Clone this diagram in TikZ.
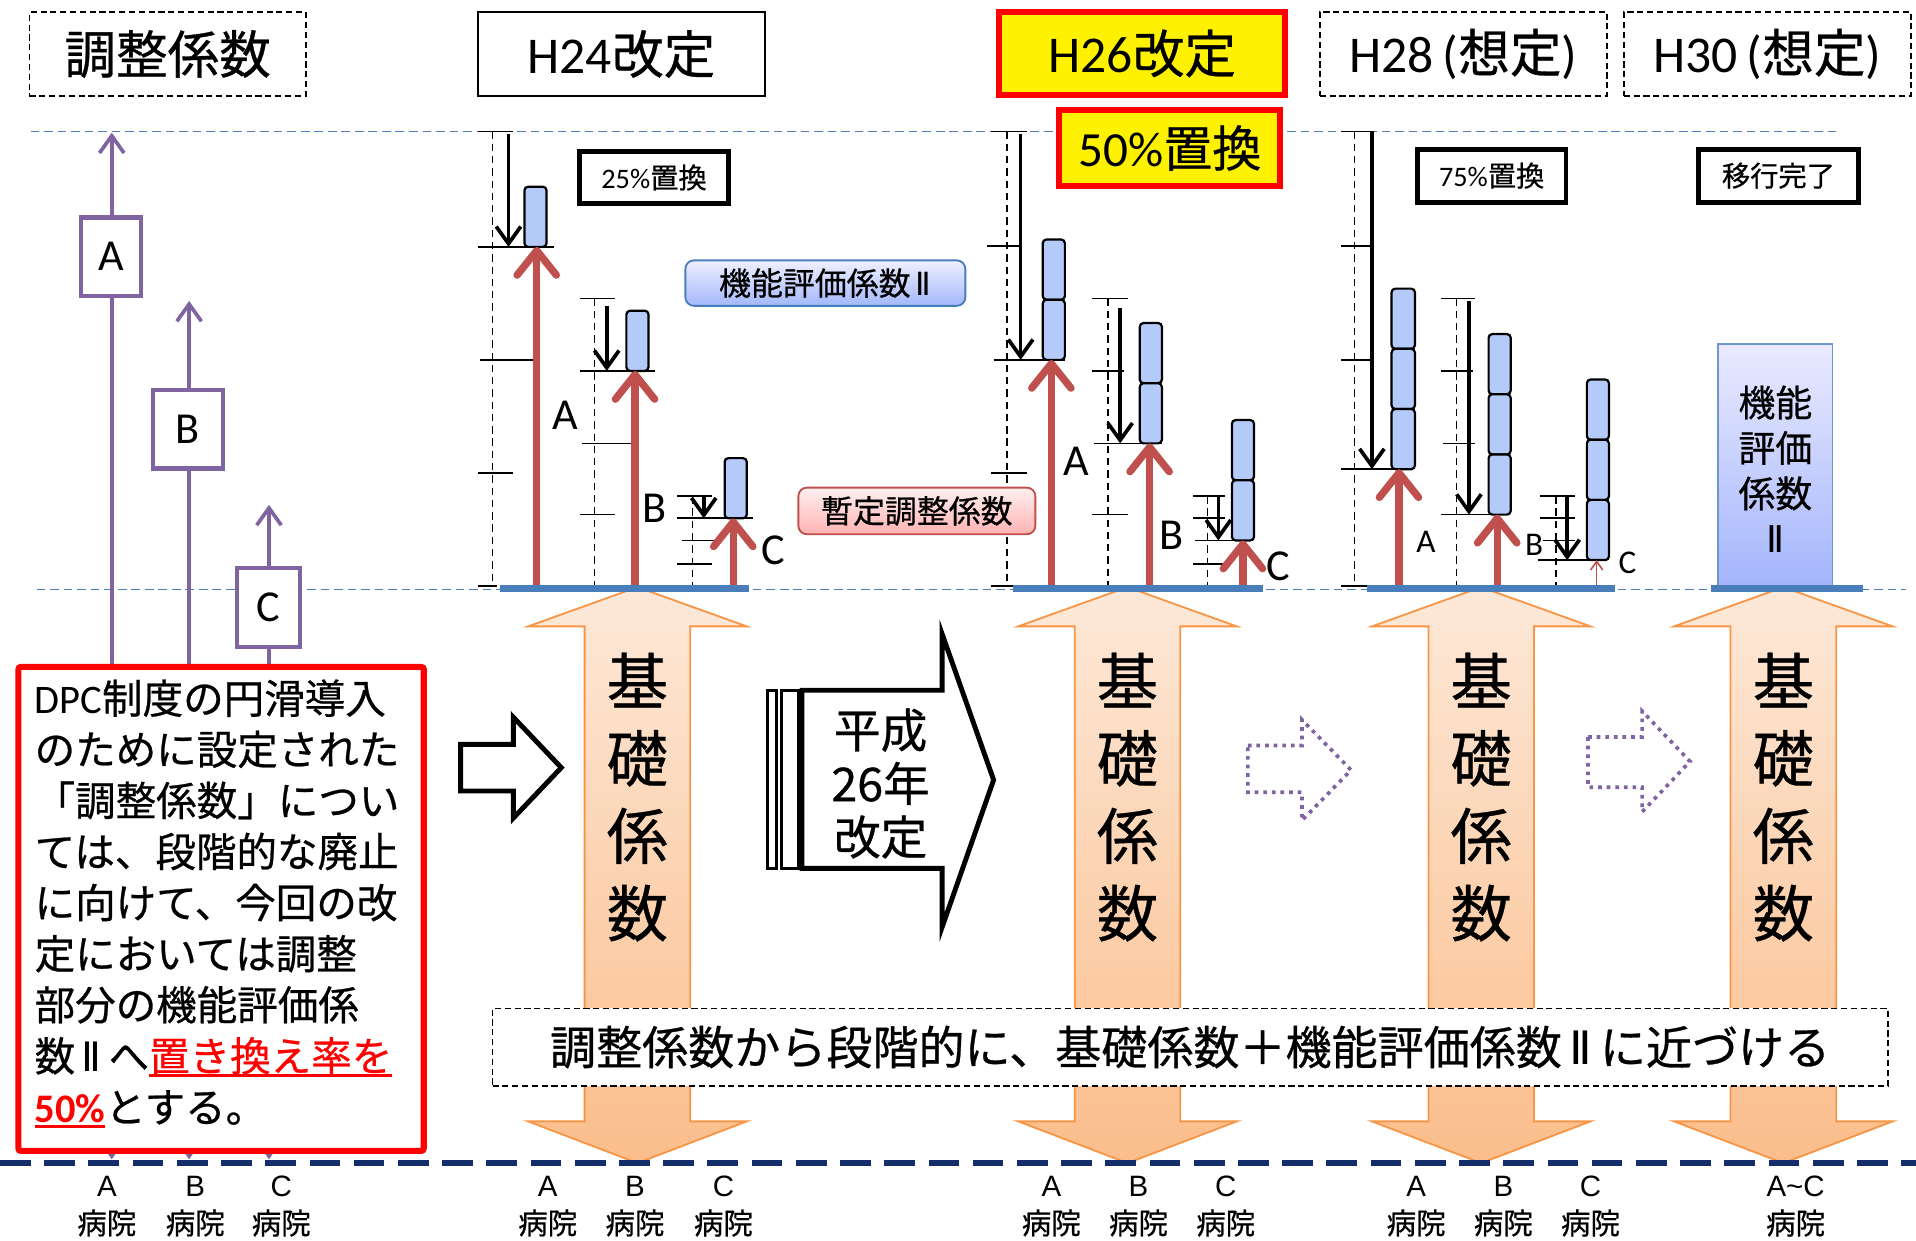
\documentclass[tikz,border=0pt]{standalone}
\usepackage{fontspec}
\setmainfont{Noto Sans CJK JP}[FakeBold=0.6]
\newfontfamily\lat{Carlito}
\newfontfamily\ari{Liberation Sans}
\newfontfamily\dv{DejaVu Sans}
\usetikzlibrary{arrows.meta,shapes.geometric}
\definecolor{purp}{HTML}{8064A2}
\definecolor{redar}{HTML}{C0504D}
\definecolor{bluebox}{HTML}{B4CBFA}
\definecolor{baseblue}{HTML}{4A7EBB}
\definecolor{navy}{HTML}{132E6B}
\definecolor{orbd}{HTML}{F79646}
\definecolor{ortop}{HTML}{FDE9D9}
\definecolor{orbot}{HTML}{FBBD8B}
\newcommand\fs[1]{\fontsize{#1}{#1}\selectfont}
\newcommand\rn{{\dv Ⅱ}}
\newcommand\redul[1]{\setbox0=\hbox{#1}\rlap{\color{red}\rule[-5pt]{\wd0}{2.5pt}}\box0}
\newcommand\orarrow[1]{\path[draw=orbd, line width=1.5pt, top color=ortop, bottom color=orbot]
 (#1,478) -- (#1+89,510) -- (#1+43,510) -- (#1+43,913) -- (#1+89,913) -- (#1,947)
 -- (#1-89,913) -- (#1-43,913) -- (#1-43,510) -- (#1-89,510) -- cycle;}
\begin{document}
\begin{tikzpicture}[x=1pt,y=-1pt,
 hdash/.style={draw=black, line width=1.5pt, dash pattern=on 5pt off 3pt, inner sep=0, minimum height=68},
 hsol/.style={draw=black, line width=1.3pt, inner sep=0, minimum height=68},
 hyel/.style={draw=red, fill=yellow, line width=5pt, inner sep=0},
 pbox/.style={draw=black, line width=4pt, fill=white, inner sep=0, minimum height=43},
 tkl/.style={draw=black, line width=1.4pt},
 dashv/.style={draw=black, line width=1.2pt, dash pattern=on 6pt off 4pt},
 blk/.style={draw=black, line width=3pt, -{Straight Barb[length=14pt,width=20pt]}},
 rarr/.style={draw=redar, line width=6pt, -{Straight Barb[length=20pt,width=32pt,round]}},
 bbx/.style={draw=black, line width=1.8pt, fill=bluebox, rounded corners=3pt},
 lab/.style={font=\lat\fs{36}, inner sep=0},
 labs/.style={font=\lat\fs{27}, inner sep=0},
 hosp/.style={align=center, font=\fontsize{24}{31}\selectfont, inner sep=0},
 kiso/.style={align=center, font=\fontsize{50}{63}\selectfont, inner sep=0},
 purpbox/.style={draw=purp, line width=3.5pt, fill=white, inner sep=0, minimum height=64, font=\lat\fs{36}},
 gnd/.style={draw=baseblue, line width=6pt},
 dotarr/.style={draw=purp, line width=3pt, dash pattern=on 3pt off 4pt},
 thindash/.style={draw=baseblue, line width=1.3pt, dash pattern=on 7pt off 4pt}
]
\useasboundingbox (0,0) rectangle (1560,1010);

% guide lines
\draw[thindash] (25,107) -- (1495,107);
\draw[thindash] (30,480) -- (1552,480);

% headers
\node[hdash, minimum width=225] (hk) at (136.5,44) {\fs{42}調整係数};
\node[hsol, minimum width=234] (h24) at (506,44) {\fs{42}{\lat H24}改定};
\node[hyel, minimum width=233, minimum height=68] (h26) at (930,43.5) {\fs{42}{\lat H26}改定};
\node[hyel, minimum width=180, minimum height=62] (p50) at (952.5,120.5) {\fs{40}{\lat 50\%}置換};
\node[hdash, minimum width=234] (h28) at (1191.5,44) {\fs{42}{\lat H28\hspace{7pt}(}想定{\lat )}};
\node[hdash, minimum width=234] (h30) at (1439,44) {\fs{42}{\lat H30\hspace{7pt}(}想定{\lat )}};

% left purple arrows
\draw[purp, line width=3pt, {Triangle[length=7pt,width=9pt]}-{Straight Barb[length=14pt,width=20pt]}] (91,944) -- (91,108);
\draw[purp, line width=3pt, {Triangle[length=7pt,width=9pt]}-{Straight Barb[length=14pt,width=20pt]}] (154,944) -- (154,245);
\draw[purp, line width=3pt, {Triangle[length=7pt,width=9pt]}-{Straight Barb[length=14pt,width=20pt]}] (219,944) -- (219,411);
\node[purpbox, minimum width=49] (pa) at (90.5,209) {A};
\node[purpbox, minimum width=57] (pb) at (153,349.5) {B};
\node[purpbox, minimum width=51] (pc) at (218.5,494.5) {C};

% orange double arrows
\orarrow{519}
\orarrow{918}
\orarrow{1206}
\orarrow{1452}
\node[kiso] (k24) at (519,649) {基\\礎\\係\\数};
\node[kiso] (k26) at (918,649) {基\\礎\\係\\数};
\node[kiso] (k28) at (1206,649) {基\\礎\\係\\数};
\node[kiso] (k30) at (1452,649) {基\\礎\\係\\数};

% navy dashed line
\draw[navy, line width=4.5pt, dash pattern=on 25pt off 11pt] (0,947) -- (1560,947);

% ===== H24 chart =====
\draw[dashv] (401,107) -- (401,477);
\draw[tkl] (389,107) -- (418,107);
\draw[tkl] (389,201) -- (451,201);
\draw[tkl] (391,293) -- (434,293);
\draw[tkl] (389,385) -- (418,385);
\draw[tkl] (389,477) -- (405,477);
\draw[blk] (414,109) -- (414,201);
\draw[bbx] (427,152) rectangle (445,201);
\draw[rarr] (437,477) -- (437,201);
\node[lab] (l24a) at (460,338) {A};
\draw[dashv] (484,243) -- (484,477);
\draw[tkl] (472,243) -- (501,243);
\draw[tkl] (472,302) -- (533,302);
\draw[tkl] (474,361) -- (520,361);
\draw[tkl] (472,419) -- (501,419);
\draw[blk] (494,249) -- (494,302);
\draw[bbx] (510,253) rectangle (528,302);
\draw[rarr] (517,477) -- (517,302);
\node[lab] (l24b) at (533,414) {B};
\draw[dashv] (564,404) -- (564,477);
\draw[tkl] (551,404) -- (580,404);
\draw[tkl] (551,422) -- (613,422);
\draw[tkl] (555,440) -- (586,440);
\draw[tkl] (551,459) -- (580,459);
\draw[blk] (573,404) -- (573,422);
\draw[bbx] (590,373) rectangle (608,422);
\draw[rarr] (597,477) -- (597,422);
\node[lab] (l24c) at (630,448) {C};
\draw[gnd] (407,479) -- (610,479);

% ===== H26 chart =====
\draw[dashv] (820,107) -- (820,477);
\draw[tkl] (807,107) -- (836,107);
\draw[tkl] (804,200) -- (831,200);
\draw[tkl] (809,293) -- (867,293);
\draw[tkl] (807,385) -- (836,385);
\draw[tkl] (807,477) -- (836,477);
\draw[blk] (831,109) -- (831,293);
\draw[bbx] (849,195) rectangle (867,244);
\draw[bbx] (849,244) rectangle (867,293);
\draw[rarr] (856,477) -- (856,293);
\node[lab] (l26a) at (876,376) {A};
\draw[dashv] (902,243) -- (902,477);
\draw[tkl] (889,243) -- (918,243);
\draw[tkl] (889,302) -- (915,302);
\draw[tkl] (891,361) -- (946,361);
\draw[tkl] (889,419) -- (918,419);
\draw[blk] (912,251) -- (912,361);
\draw[bbx] (928,263) rectangle (946,312);
\draw[bbx] (928,312) rectangle (946,361);
\draw[rarr] (936,477) -- (936,361);
\node[lab] (l26b) at (954,436) {B};
\draw[dashv] (983,404) -- (983,477);
\draw[tkl] (971,404) -- (997,404);
\draw[tkl] (971,422) -- (997,422);
\draw[tkl] (973,440) -- (1020,440);
\draw[tkl] (971,459) -- (997,459);
\draw[blk] (992,404) -- (992,440);
\draw[bbx] (1003,342) rectangle (1021,391);
\draw[bbx] (1003,391) rectangle (1021,440);
\draw[rarr] (1012,477) -- (1012,440);
\node[lab] (l26c) at (1041,461) {C};
\draw[gnd] (825,479) -- (1028,479);

% ===== H28 chart =====
\draw[dashv] (1103,107) -- (1103,477);
\draw[tkl] (1092,107) -- (1118,107);
\draw[tkl] (1092,200) -- (1118,200);
\draw[tkl] (1092,293) -- (1118,293);
\draw[tkl] (1092,382) -- (1150,382);
\draw[tkl] (1092,477) -- (1118,477);
\draw[blk] (1117,107) -- (1117,382);
\draw[bbx] (1133,235) rectangle (1152,284);
\draw[bbx] (1133,284) rectangle (1152,333);
\draw[bbx] (1133,333) rectangle (1152,382);
\draw[rarr] (1139,477) -- (1139,382);
\node[labs] (l28a) at (1161,441) {A};
\draw[dashv] (1186,243) -- (1186,477);
\draw[tkl] (1173,243) -- (1201,243);
\draw[tkl] (1173,302) -- (1199,302);
\draw[tkl] (1175,361) -- (1201,361);
\draw[tkl] (1173,419) -- (1226,419);
\draw[blk] (1196,245) -- (1196,419);
\draw[bbx] (1212,272) rectangle (1230,321);
\draw[bbx] (1212,321) rectangle (1230,370);
\draw[bbx] (1212,370) rectangle (1230,419);
\draw[rarr] (1219,477) -- (1219,419);
\node[labs] (l28b) at (1249,444) {B};
\draw[dashv] (1267,404) -- (1267,477);
\draw[tkl] (1254,404) -- (1282,404);
\draw[tkl] (1254,422) -- (1282,422);
\draw[tkl] (1256,440) -- (1282,440);
\draw[tkl] (1252,456) -- (1308,456);
\draw[blk] (1276,404) -- (1276,456);
\draw[bbx] (1292,309) rectangle (1310,358);
\draw[bbx] (1292,358) rectangle (1310,407);
\draw[bbx] (1292,407) rectangle (1310,456);
\draw[redar, line width=1.3pt, -{Straight Barb[length=7pt,width=10pt]}] (1300,477) -- (1300,456);
\node[labs] (l28c) at (1325,458) {C};
\draw[gnd] (1113,479) -- (1315,479);

% ===== H30 =====
\node[draw=baseblue!80, line width=1.5pt, top color=blue!8, bottom color=bluebox!85!blue!90, minimum width=93, minimum height=197, inner sep=0] (k2box) at (1445.5,378.5) {};
\node[align=center, font=\fontsize{30}{37}\selectfont, inner sep=0] (k2txt) at (1445.5,382) {機能\\評価\\係数\\\rn};
\draw[gnd] (1393,479) -- (1517,479);

% percent boxes
\node[pbox, minimum width=121] (p25) at (532.5,144.5) {\fs{23}{\lat 25\%}置換};
\node[pbox, minimum width=121] (p75) at (1214.5,143) {\fs{23}{\lat 75\%}置換};
\node[pbox, minimum width=130] (pdone) at (1448,143) {\fs{23}移行完了};

% legend labels
\node[draw=baseblue, line width=1.5pt, rounded corners=7pt, top color=blue!6, bottom color=bluebox!90!blue, minimum width=228, minimum height=37, inner sep=0] (lk2) at (672,230.5) {\fs{26}機能評価係数\,\rn};
\node[draw=redar, line width=1.5pt, rounded corners=7pt, top color=red!6, bottom color=red!30, minimum width=193, minimum height=38, inner sep=0] (lzt) at (746.5,416) {\fs{26}暫定調整係数};

% transition arrows
\draw[line width=4pt, fill=white] (375,606) -- (418,606) -- (418,584) -- (457,625) -- (418,666) -- (418,644) -- (375,644) -- cycle;
\draw[line width=2.5pt, fill=white] (625,562) rectangle (632,707);
\draw[line width=2.5pt, fill=white] (636,562) rectangle (650,707);
\draw[line width=4pt, fill=white] (653,562) -- (767,562) -- (767,516) -- (809,635) -- (767,755) -- (767,707) -- (653,707) -- cycle;
\node[align=center, font=\fontsize{38}{43.5}\selectfont, inner sep=0] (hs) at (717,638) {平成\\26年\\改定};
\draw[dotarr] (1016,607) -- (1060,607) -- (1060,586) -- (1100,627) -- (1060,668) -- (1060,645) -- (1016,645) -- cycle;
\draw[dotarr] (1293,600) -- (1337,600) -- (1337,579) -- (1376,620) -- (1337,661) -- (1337,641) -- (1293,641) -- cycle;

% dashed explanation box
\node[draw=black, line width=1.3pt, dash pattern=on 5pt off 3pt, fill=white, minimum width=1136, minimum height=63, inner sep=0] (expl) at (969,852.5) {\fs{37.5}調整係数から段階的に、基礎係数＋機能評価係数\,\rn\,に近づける};

% red explanation box
\node[draw=red, line width=5pt, fill=white, rounded corners=2pt, minimum width=330, minimum height=394, inner sep=0, anchor=north west] (rb) at (12.5,540.5) {};
\node[anchor=north west, inner sep=0, align=left, font=\fontsize{33}{41.6}\selectfont] (rbt) at (28,553) {%
{\lat DPC}制度の円滑導入\\
のために設定された\\
「調整係数」につい\\
ては、段階的な廃止\\
に向けて、今回の改\\
定においては調整\\
部分の機能評価係\\
数\,\rn\,へ\redul{\textcolor{red}{置き換え率を}}\\
\redul{\textcolor{red}{\lat\bfseries 50\%}}とする。};

% hospital labels
\node[hosp] (ha0) at (87,982) {{\ari A}\\病院};
\node[hosp] (hb0) at (159,982) {{\ari B}\\病院};
\node[hosp] (hc0) at (229,982) {{\ari C}\\病院};
\node[hosp] (ha1) at (446,982) {{\ari A}\\病院};
\node[hosp] (hb1) at (517,982) {{\ari B}\\病院};
\node[hosp] (hc1) at (589,982) {{\ari C}\\病院};
\node[hosp] (ha2) at (856,982) {{\ari A}\\病院};
\node[hosp] (hb2) at (927,982) {{\ari B}\\病院};
\node[hosp] (hc2) at (998,982) {{\ari C}\\病院};
\node[hosp] (ha3) at (1153,982) {{\ari A}\\病院};
\node[hosp] (hb3) at (1224,982) {{\ari B}\\病院};
\node[hosp] (hc3) at (1295,982) {{\ari C}\\病院};
\node[hosp] (hall) at (1462,982) {{\ari A\char`\~C}\\病院};
\end{tikzpicture}
\end{document}
